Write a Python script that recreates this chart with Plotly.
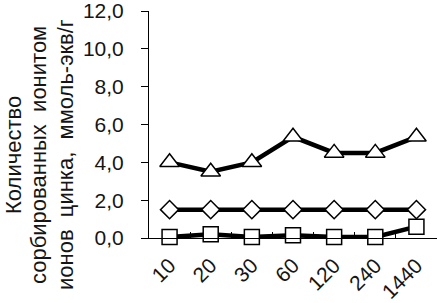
import plotly.graph_objects as go

categories = ["10", "20", "30", "60", "120", "240", "1440"]
triangles = [4.0, 3.5, 4.0, 5.35, 4.5, 4.5, 5.35]
diamonds = [1.5, 1.5, 1.5, 1.5, 1.5, 1.5, 1.5]
squares = [0.05, 0.2, 0.05, 0.15, 0.05, 0.05, 0.6]
y_ticks = [0, 2, 4, 6, 8, 10, 12]
y_tick_text = ["0,0", "2,0", "4,0", "6,0", "8,0", "10,0", "12,0"]
y_title_lines = ["Количество", "сорбированных  ионитом", "ионов  цинка,  ммоль-экв/г"]

FONT = "Arial, Liberation Sans, sans-serif"
TXT = "#151515"

# plot area at screen x 149..437, y 11..238 (body margin removed in the page)
W, H = 437, 303
L, T = 149, 11
PW, PH = 288, 227
B = H - T - PH

def px_x(sx):
    return (sx - L) / PW

def px_y(sy):
    return (T + PH - sy) / PH

fig = go.Figure()

def add(series, symbol, size):
    fig.add_trace(go.Scatter(
        x=categories, y=series, mode="lines+markers",
        line=dict(color="black", width=4.5),
        marker=dict(symbol=symbol, size=size, color="white",
                    line=dict(color="black", width=1.5)),
        showlegend=False, cliponaxis=False))

add(diamonds, "diamond", 14)
add(squares, "square", 15)
add(triangles, "triangle-up", 17)

annotations = []
for sx, line in zip([13, 38, 65], y_title_lines):
    annotations.append(dict(text=line, textangle=-90, xref="paper", yref="paper",
                            x=px_x(sx), y=px_y(155), xanchor="center", yanchor="middle",
                            showarrow=False,
                            font=dict(family=FONT, size=22, color=TXT)))

fig.update_layout(
    width=W, height=H,
    margin=dict(l=L, r=0, t=T, b=B, pad=0),
    paper_bgcolor="white", plot_bgcolor="white",
    font=dict(family=FONT, size=21, color=TXT),
    xaxis=dict(type="category", range=[-0.5, 6.5], automargin=False,
               showline=True, linecolor="black", linewidth=1,
               ticks="inside", tickson="boundaries", ticklen=6, tickcolor="black",
               tickangle=-45, showgrid=False, zeroline=False,
               ticklabeloverflow="allow", ticklabelstandoff=6,
               tickfont=dict(family=FONT, size=21, color=TXT)),
    yaxis=dict(range=[0, 12], tickvals=y_ticks, ticktext=y_tick_text, automargin=False,
               showline=True, linecolor="black", linewidth=1,
               ticks="outside", ticklen=7, tickcolor="black",
               showgrid=False, zeroline=False,
               ticklabeloverflow="allow", ticklabelstandoff=13,
               tickfont=dict(family=FONT, size=21, color=TXT)),
    annotations=annotations,
)

fig.write_html("out.html", config={"displayModeBar": False},
               post_script="document.body.style.margin='0';")
